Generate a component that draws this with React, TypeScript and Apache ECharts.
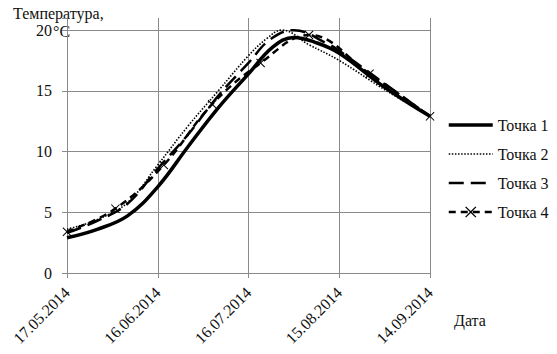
import React, { useEffect, useRef } from "react";
import * as echarts from "echarts";

// x: days from 17.05.2014
const START = Date.UTC(2014, 4, 17);
const xTicksDays = [0, 30, 60, 90, 120];
const yTicks = [0, 5, 10, 15, 20];

const days1 = [0, 10, 20, 30, 40, 50, 60, 68, 75, 82, 90, 105, 120];
const vals1 = [2.9, 3.6, 4.7, 7.1, 10.4, 13.6, 16.4, 18.6, 19.4, 19.0, 18.1, 15.3, 12.9];

const days2 = [0, 10, 20, 30, 40, 50, 60, 66, 71, 80, 90, 105, 120];
const vals2 = [3.6, 4.4, 5.8, 8.9, 12.1, 15.0, 17.9, 19.3, 20.0, 18.8, 17.5, 15.1, 12.9];

const days3 = [0, 10, 20, 30, 40, 50, 60, 67, 75, 86, 90, 105, 120];
const vals3 = [3.3, 4.3, 5.7, 8.6, 11.4, 14.6, 17.3, 19.2, 20.0, 18.9, 18.3, 15.6, 12.9];

const days4 = [0, 16, 32, 48, 64, 80, 100, 120];
const vals4 = [3.4, 5.3, 8.9, 13.9, 17.3, 19.6, 16.4, 12.9];

const seriesNames = ["Точка 1", "Точка 2", "Точка 3", "Точка 4"];

const FONT = "'Liberation Serif', 'Times New Roman', 'DejaVu Serif', serif";
const X_MARK =
  "path://M0,0.8L0.8,0L5,4.2L9.2,0L10,0.8L5.8,5L10,9.2L9.2,10L5,5.8L0.8,10L0,9.2L4.2,5Z";

function fmtDate(d: number) {
  const dt = new Date(START + d * 86400000);
  const dd = String(dt.getUTCDate()).padStart(2, "0");
  const mm = String(dt.getUTCMonth() + 1).padStart(2, "0");
  return `${dd}.${mm}.${dt.getUTCFullYear()}`;
}

const zip = (a: number[], b: number[]) => a.map((d, i) => [d, b[i]]);

export default function App() {
  const ref = useRef<HTMLDivElement>(null);
  useEffect(() => {
    document.body.style.margin = "0";
    if (!ref.current) return;
    const chart = echarts.init(ref.current, undefined, { renderer: "svg" });
    const grid = "#8a8a8a";
    const hidden = { color: "rgba(0,0,0,0)", borderWidth: 0 };
    chart.setOption({
      animation: false,
      backgroundColor: "#fff",
      textStyle: { fontFamily: FONT },
      grid: { left: 67, right: 127, top: 18, bottom: 81 },
      xAxis: {
        type: "value",
        min: 0,
        max: 120,
        interval: 30,
        axisLine: { show: true, lineStyle: { color: grid, width: 1 } },
        axisTick: { show: true, length: 5, lineStyle: { color: grid } },
        splitLine: { show: true, lineStyle: { color: grid, width: 1 } },
        axisLabel: {
          rotate: 45,
          margin: 17,
          color: "#111",
          fontSize: 16,
          fontFamily: FONT,
          formatter: (v: number) => (xTicksDays.includes(v) ? fmtDate(v) : ""),
        },
      },
      yAxis: {
        type: "value",
        min: 0,
        max: 21,
        interval: 5,
        axisLine: { show: true, lineStyle: { color: grid, width: 1 } },
        axisTick: { show: true, length: 5, lineStyle: { color: grid } },
        splitLine: {
          show: true,
          lineStyle: { color: [grid, grid, grid, grid, grid, "rgba(0,0,0,0)"], width: 1 },
        },
        axisLabel: {
          margin: 15,
          color: "#111",
          fontSize: 16,
          fontFamily: FONT,
          formatter: (v: number) => (yTicks.includes(v) ? String(v) : ""),
        },
      },
      legend: {
        orient: "vertical",
        left: 447,
        top: 117,
        padding: 0,
        itemWidth: 44,
        itemHeight: 14,
        itemGap: 13,
        textStyle: { fontSize: 16, color: "#111", fontFamily: FONT },
        lineStyle: { width: "inherit" },
        data: [
          { name: seriesNames[0], itemStyle: hidden },
          { name: seriesNames[1], itemStyle: hidden },
          { name: seriesNames[2], itemStyle: hidden },
          { name: seriesNames[3] },
        ],
      },
      graphic: [
        {
          type: "text",
          left: 13,
          top: 5,
          style: { text: "Температура,", fontSize: 16, fontFamily: FONT, fill: "#111" },
        },
        {
          type: "text",
          left: 53,
          top: 23,
          style: { text: "°C", fontSize: 16, fontFamily: FONT, fill: "#111" },
        },
        {
          type: "text",
          left: 454,
          top: 312,
          style: { text: "Дата", fontSize: 16, fontFamily: FONT, fill: "#111" },
        },
      ],
      series: [
        {
          name: seriesNames[0],
          type: "line",
          smooth: 0.4,
          symbol: "circle",
          showSymbol: false,
          data: zip(days1, vals1),
          lineStyle: { color: "#000", width: 3.5 },
          itemStyle: { color: "#000" },
        },
        {
          name: seriesNames[1],
          type: "line",
          smooth: 0.4,
          symbol: "circle",
          showSymbol: false,
          data: zip(days2, vals2),
          lineStyle: { color: "#000", width: 1.6, type: [1.5, 1.6] },
          itemStyle: { color: "#000" },
        },
        {
          name: seriesNames[2],
          type: "line",
          smooth: 0.4,
          symbol: "circle",
          showSymbol: false,
          data: zip(days3, vals3),
          lineStyle: { color: "#000", width: 2.5, type: [15, 7] },
          itemStyle: { color: "#000" },
        },
        {
          name: seriesNames[3],
          type: "line",
          smooth: 0.4,
          symbol: X_MARK,
          symbolSize: 9,
          showSymbol: true,
          data: zip(days4, vals4),
          lineStyle: { color: "#000", width: 2.5, type: [7, 5] },
          itemStyle: { color: "#000", borderWidth: 0 },
        },
      ],
    });
    return () => chart.dispose();
  }, []);
  return <div ref={ref} style={{ width: 557, height: 354 }} />;
}
